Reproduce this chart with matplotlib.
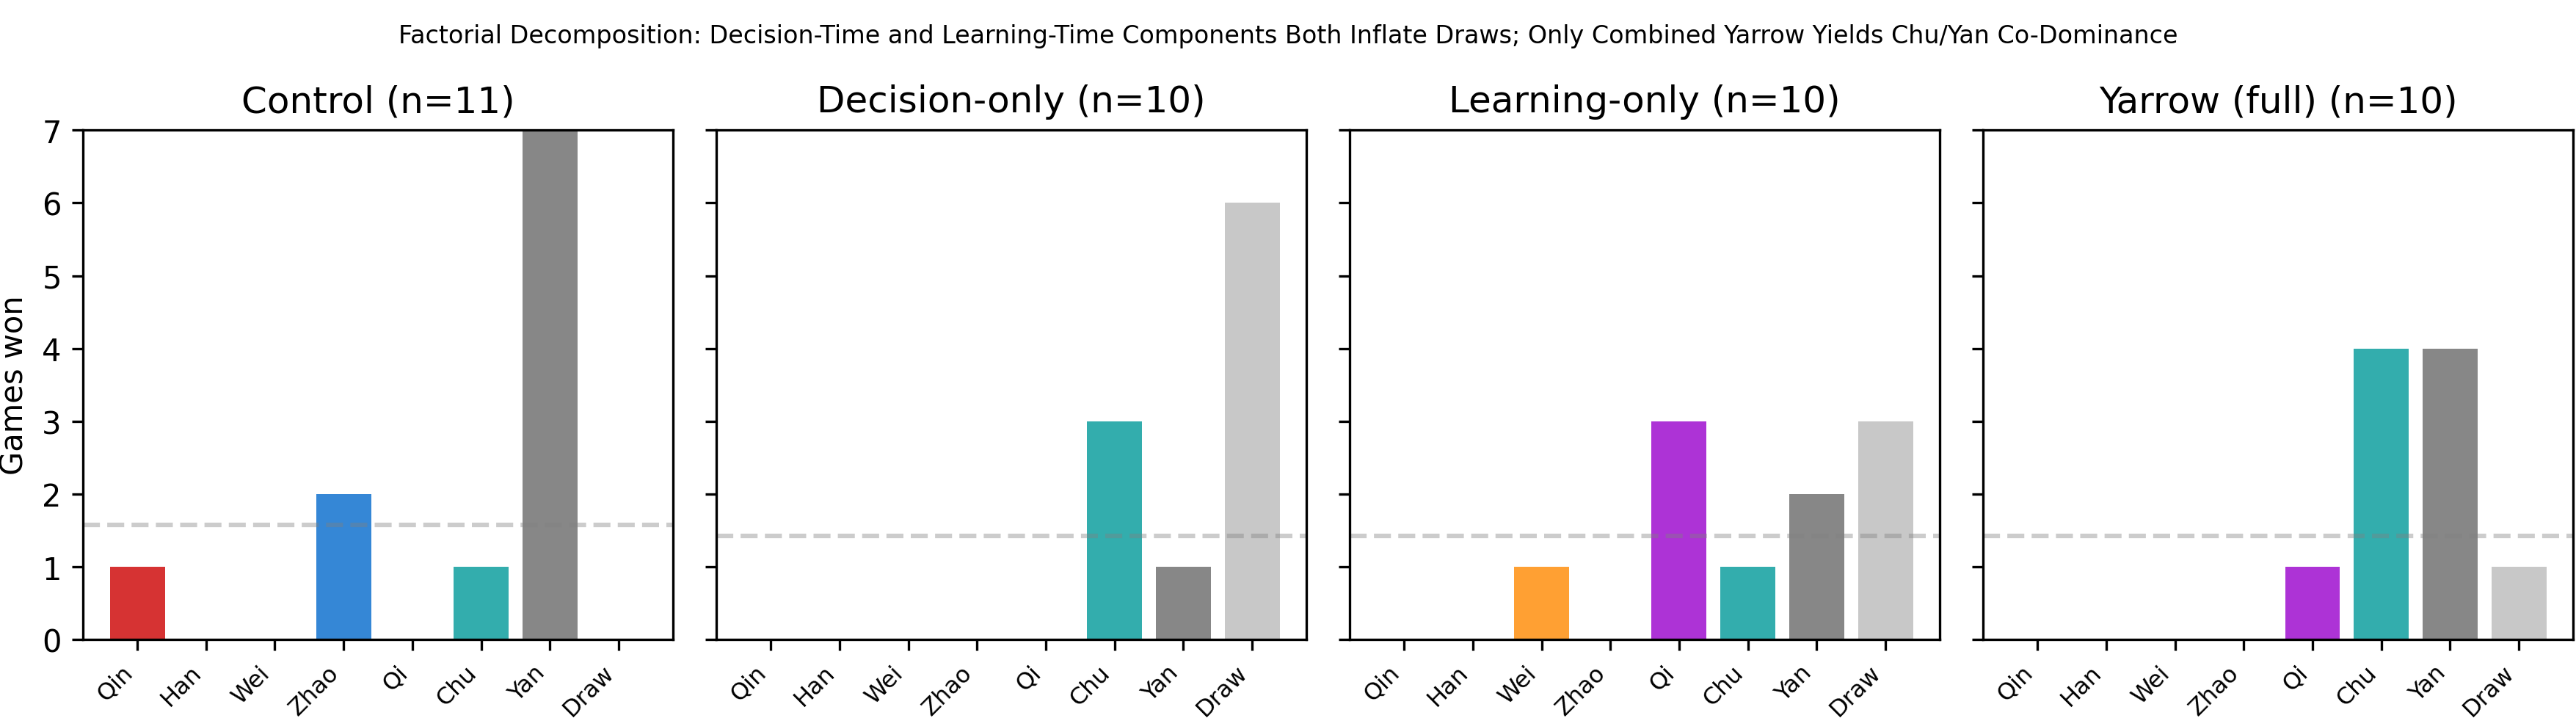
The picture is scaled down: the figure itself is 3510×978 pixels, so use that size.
import matplotlib
matplotlib.use("Agg")
import matplotlib.pyplot as plt
import numpy as np

# factions in display order
factions = ["Qin", "Han", "Wei", "Zhao", "Qi", "Chu", "Yan", "Draw"]
colors = ["#d63333", "#e0762b", "#ffa033", "#3587d6", "#ad33d6", "#33adad", "#878787", "#c8c8c8"]

conditions = ["Control (n=11)", "Decision-only (n=10)", "Learning-only (n=10)", "Yarrow (full) (n=10)"]
n_games = [11, 10, 10, 10]

control = [1, 0, 0, 2, 0, 1, 7, 0]
decision_only = [0, 0, 0, 0, 0, 3, 1, 6]
learning_only = [0, 0, 1, 0, 3, 1, 2, 3]
yarrow_full = [0, 0, 0, 0, 1, 4, 4, 1]

wins = [control, decision_only, learning_only, yarrow_full]

fig, axes = plt.subplots(1, 4, figsize=(11.7, 3.263), dpi=300, sharey=True)
fig.subplots_adjust(left=0.0322, right=0.9989, top=0.818, bottom=0.109, wspace=0.0734)

x = np.arange(len(factions))
for ax, title, vals, n in zip(axes, conditions, wins, n_games):
    ax.bar(x, vals, width=0.8, color=colors)
    # expected wins if uniform over 7 outcomes
    ax.axhline(n / 7, color="gray", alpha=0.4, ls="--", lw=1.5)
    ax.set_title(title, fontsize=12)
    ax.set_xticks(x)
    ax.set_xticklabels(factions, rotation=45, ha="right", fontsize=7.7)
    ax.set_ylim(0, 7)
    ax.set_yticks(range(8))

axes[0].set_ylabel("Games won")
fig.suptitle("Factorial Decomposition: Decision-Time and Learning-Time Components Both Inflate Draws; "
             "Only Combined Yarrow Yields Chu/Yan Co-Dominance", fontsize=8, y=0.966)

fig.savefig("out.png", dpi=300)
